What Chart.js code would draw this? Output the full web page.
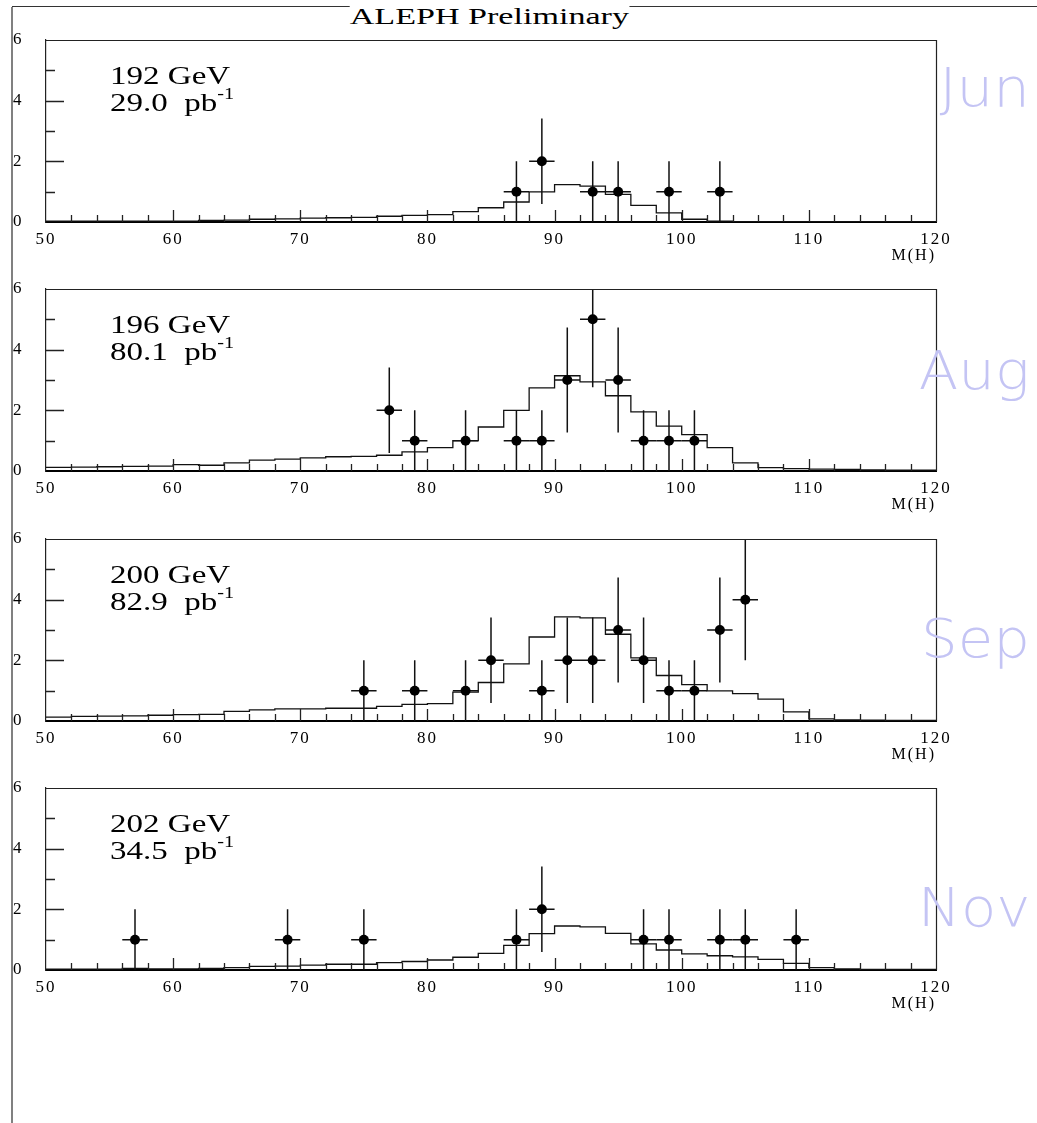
<!DOCTYPE html>
<html>
<head>
<meta charset="utf-8">
<script src="https://cdn.jsdelivr.net/npm/chart.js@4"></script>
<style>
  html, body { margin: 0; padding: 0; background: #fff; }
  body { width: 1037px; height: 1123px; position: relative; overflow: hidden; }
  canvas { position: absolute; left: 0; }
  .abs { position: absolute; white-space: nowrap; line-height: 1; }
  .page-left { position: absolute; left: 11px; top: 7px; width: 2px; height: 1116px; background: #808080; }
  .page-top { position: absolute; left: 12px; top: 6px; width: 1025px; height: 1px; background: #333; }
  .title-wrap { position: absolute; left: 0; top: 4px; width: 978px; text-align: center; }
  .title { display: inline-block; font-family: 'Liberation Serif', serif; font-size: 24px; line-height: 1;
           background: #fff; transform: scaleX(1.42); transform-origin: center top; color: #000; }
  .info { font-family: 'Liberation Serif', serif; font-size: 26px; color: #000; transform: scaleX(1.27); transform-origin: left top; }
  .info sup { font-size: 16px; vertical-align: 12px; line-height: 0; }
  .month { font-family: 'DejaVu Sans', sans-serif; font-weight: 200; font-size: 53px; color: #c4c4f4;
           transform: scaleX(1.09); transform-origin: right top; text-align: right; }
</style>
</head>
<body>
<div class="page-top"></div>
<div class="page-left"></div>
<div class="title-wrap"><span class="title">ALEPH Preliminary</span></div>
<div id="panels"></div>
<script>
// Lower edges of the 2 GeV mass bins, and the upper end of the mass axis
const binLow = [50, 52, 54, 56, 58, 60, 62, 64, 66, 68,
                70, 72, 74, 76, 78, 80, 82, 84, 86, 88,
                90, 92, 94, 96, 98, 100, 102, 104, 106, 108,
                110, 112, 114, 116, 118];
const massMin = 50;
const massMax = 120;
const xTickLabels = [50, 60, 70, 80, 90, 100, 110, 120];
const yTickLabels = [0, 2, 4, 6];

// Run periods
const energies = ['192 GeV', '196 GeV', '200 GeV', '202 GeV'];
const lumis = ['29.0', '80.1', '82.9', '34.5'];
const months = ['Jun', 'Aug', 'Sep', 'Nov'];

// Expected background per bin
const mc192 = [0.03, 0.03, 0.03, 0.03, 0.03, 0.03, 0.05, 0.06, 0.09, 0.10,
               0.13, 0.14, 0.15, 0.19, 0.22, 0.24, 0.34, 0.47, 0.66, 0.99,
               1.23, 1.18, 0.91, 0.55, 0.30, 0.09, 0.03, 0.01, 0.01, 0.01,
               0.01, 0.01, 0.01, 0.01, 0.01];
const mc196 = [0.12, 0.13, 0.14, 0.15, 0.16, 0.21, 0.19, 0.27, 0.36, 0.39,
               0.43, 0.47, 0.48, 0.52, 0.63, 0.77, 1.00, 1.45, 2.00, 2.74,
               3.14, 2.94, 2.48, 1.95, 1.48, 1.20, 0.77, 0.27, 0.11, 0.08,
               0.06, 0.05, 0.04, 0.03, 0.03];
const mc200 = [0.13, 0.15, 0.16, 0.17, 0.19, 0.21, 0.22, 0.32, 0.37, 0.40,
               0.40, 0.42, 0.42, 0.48, 0.55, 0.57, 0.95, 1.27, 1.88, 2.77,
               3.43, 3.40, 2.86, 2.08, 1.50, 1.20, 0.99, 0.90, 0.72, 0.30,
               0.07, 0.04, 0.03, 0.02, 0.02];
const mc202 = [0.03, 0.03, 0.03, 0.05, 0.04, 0.04, 0.05, 0.08, 0.12, 0.13,
               0.16, 0.19, 0.19, 0.24, 0.28, 0.33, 0.42, 0.55, 0.81, 1.20,
               1.45, 1.42, 1.21, 0.86, 0.66, 0.53, 0.47, 0.43, 0.35, 0.22,
               0.08, 0.04, 0.02, 0.02, 0.02];

// Observed candidates: bin centre, count, vertical error
const obs192Mass   = [87, 89, 93, 95, 99, 103];
const obs192Events = [1, 2, 1, 1, 1, 1];
const obs192Err    = [1, 1.41, 1, 1, 1, 1];

const obs196Mass   = [77, 79, 83, 87, 89, 91, 93, 95, 97, 99, 101];
const obs196Events = [2, 1, 1, 1, 1, 3, 5, 3, 1, 1, 1];
const obs196Err    = [1.41, 1, 1, 1, 1, 1.73, 2.24, 1.73, 1, 1, 1];

const obs200Mass   = [75, 79, 83, 85, 89, 91, 93, 95, 97, 99, 101, 103, 105];
const obs200Events = [1, 1, 1, 2, 1, 2, 2, 3, 2, 1, 1, 3, 4];
const obs200Err    = [1, 1, 1, 1.41, 1, 1.41, 1.41, 1.73, 1.41, 1, 1, 1.73, 2];

const obs202Mass   = [57, 69, 75, 87, 89, 97, 99, 103, 105, 109];
const obs202Events = [1, 1, 1, 1, 2, 1, 1, 1, 1, 1];
const obs202Err    = [1, 1, 1, 1, 1.41, 1, 1, 1, 1, 1];

// Horizontal error: half the bin width
const massHalfBin = 1;

// ---- layout ----
const panelTops = [40, 289, 539, 788];
const plotHeight = 182;
const padTop = 25, xAxisHeight = 45, padBottom = 3;
const monthTops = [61, 344, 612, 881];

const panels = [
  { mc: mc192, mass: obs192Mass, events: obs192Events, err: obs192Err },
  { mc: mc196, mass: obs196Mass, events: obs196Events, err: obs196Err },
  { mc: mc200, mass: obs200Mass, events: obs200Events, err: obs200Err },
  { mc: mc202, mass: obs202Mass, events: obs202Events, err: obs202Err }
];

Chart.defaults.font.family = "'Liberation Serif', serif";
Chart.defaults.color = '#000';

// Error bars drawn from the observed dataset's own values through the scales
const errorBars = {
  id: 'errorBars',
  beforeDatasetsDraw(chart) {
    const ds = chart.data.datasets[1];
    const xs = chart.scales.x, ys = chart.scales.y, a = chart.chartArea;
    const ctx = chart.ctx;
    ctx.save();
    ctx.beginPath();
    ctx.rect(a.left, a.top, a.right - a.left, a.bottom - a.top);
    ctx.clip();
    ctx.strokeStyle = '#111';
    ctx.lineWidth = 1.5;
    ds.data.forEach(p => {
      const px = xs.getPixelForValue(p.x);
      const py = ys.getPixelForValue(p.y);
      ctx.beginPath();
      ctx.moveTo(px, ys.getPixelForValue(p.y - p.err));
      ctx.lineTo(px, ys.getPixelForValue(p.y + p.err));
      ctx.moveTo(xs.getPixelForValue(p.x - p.xerr), py);
      ctx.lineTo(xs.getPixelForValue(p.x + p.xerr), py);
      ctx.stroke();
    });
    ctx.restore();
  }
};

// Closed frame with inward tick marks
const frameTicks = {
  id: 'frameTicks',
  beforeDraw(chart) { chart.ctx.letterSpacing = '2px'; },
  afterDraw(chart) {
    const ctx = chart.ctx, a = chart.chartArea;
    const xs = chart.scales.x, ys = chart.scales.y;
    ctx.save();
    ctx.letterSpacing = '0px';
    ctx.strokeStyle = '#222';
    ctx.lineWidth = 1.2;
    ctx.beginPath();
    ctx.moveTo(a.left, a.top + 0.5);
    ctx.lineTo(a.right + 0.5, a.top + 0.5);
    ctx.lineTo(a.right + 0.5, a.bottom);
    ctx.stroke();
    ctx.lineWidth = 1.3;
    ctx.beginPath();
    for (let v = massMin + 2; v < massMax; v += 2) {
      const px = Math.round(xs.getPixelForValue(v)) + 0.5;
      const len = (v % 10 === 0) ? 12 : 7;
      ctx.moveTo(px, a.bottom);
      ctx.lineTo(px, a.bottom - len);
    }
    for (let v = 1; v < 6; v += 1) {
      const py = Math.round(ys.getPixelForValue(v)) + 0.5;
      const len = (v % 2 === 0) ? 18 : 9;
      ctx.moveTo(a.left, py);
      ctx.lineTo(a.left + len, py);
    }
    ctx.stroke();
    ctx.restore();
    ctx.letterSpacing = '0px';
  }
};

const host = document.getElementById('panels');

panels.forEach((p, i) => {
  const canvas = document.createElement('canvas');
  const h = padTop + plotHeight + xAxisHeight + padBottom;
  canvas.width = 1037; canvas.height = h;
  canvas.style.width = '1037px'; canvas.style.height = h + 'px';
  canvas.style.top = (panelTops[i] - padTop) + 'px';
  host.appendChild(canvas);

  // Step outline: each bin's value holds from its lower edge to the next edge
  const histPts = binLow.map((x, k) => ({ x: x, y: p.mc[k] }));
  histPts.push({ x: massMax, y: p.mc[p.mc.length - 1] });
  const obsPts = p.mass.map((x, k) => ({ x: x, y: p.events[k], err: p.err[k], xerr: massHalfBin }));

  new Chart(canvas, {
    type: 'scatter',
    data: {
      datasets: [
        { type: 'line', data: histPts, stepped: 'before', borderColor: '#111', borderWidth: 1.3,
          pointRadius: 0, fill: false, order: 2 },
        { data: obsPts, pointRadius: 5, pointHoverRadius: 5, backgroundColor: '#000',
          borderColor: '#000', borderWidth: 0, order: 1 }
      ]
    },
    options: {
      responsive: false,
      animation: false,
      events: [],
      layout: { padding: { left: 13, right: 101, top: padTop, bottom: padBottom } },
      plugins: { legend: { display: false }, tooltip: { enabled: false } },
      scales: {
        x: {
          type: 'linear', position: 'bottom', min: massMin, max: massMax,
          afterBuildTicks(s) { s.ticks = xTickLabels.map(v => ({ value: v })); },
          ticks: { padding: 7, maxRotation: 0, autoSkip: false, color: '#000',
                   font: { family: "'Liberation Serif', serif", size: 17 } },
          grid: { display: false, drawTicks: false },
          border: { display: true, color: '#000', width: 2 },
          title: { display: true, text: 'M(H)', align: 'end', color: '#000',
                   font: { family: "'Liberation Serif', serif", size: 16 }, padding: { top: 0, bottom: 2 } },
          afterFit(s) { s.height = xAxisHeight; }
        },
        y: {
          type: 'linear', min: 0, max: 6,
          afterBuildTicks(s) { s.ticks = yTickLabels.map(v => ({ value: v })); },
          ticks: { crossAlign: 'far', padding: 0, color: '#000',
                   font: { family: "'Liberation Serif', serif", size: 17 } },
          grid: { display: false, drawTicks: false },
          border: { display: true, color: '#222', width: 1.2 },
          afterFit(s) { s.width = 33; }
        }
      }
    },
    plugins: [errorBars, frameTicks]
  });

  // Run label: energy and integrated luminosity
  const l1 = document.createElement('div');
  l1.className = 'abs info';
  l1.style.left = '110px';
  l1.style.top = (panelTops[i] + 23) + 'px';
  l1.textContent = energies[i];
  host.appendChild(l1);

  const l2 = document.createElement('div');
  l2.className = 'abs info';
  l2.style.left = '110px';
  l2.style.top = (panelTops[i] + 50) + 'px';
  l2.innerHTML = lumis[i] + '&nbsp; pb<sup>-1</sup>';
  host.appendChild(l2);

  // Month of the run
  const m = document.createElement('div');
  m.className = 'abs month';
  m.style.right = '7px';
  m.style.top = monthTops[i] + 'px';
  m.textContent = months[i];
  host.appendChild(m);
});
</script>
</body>
</html>
